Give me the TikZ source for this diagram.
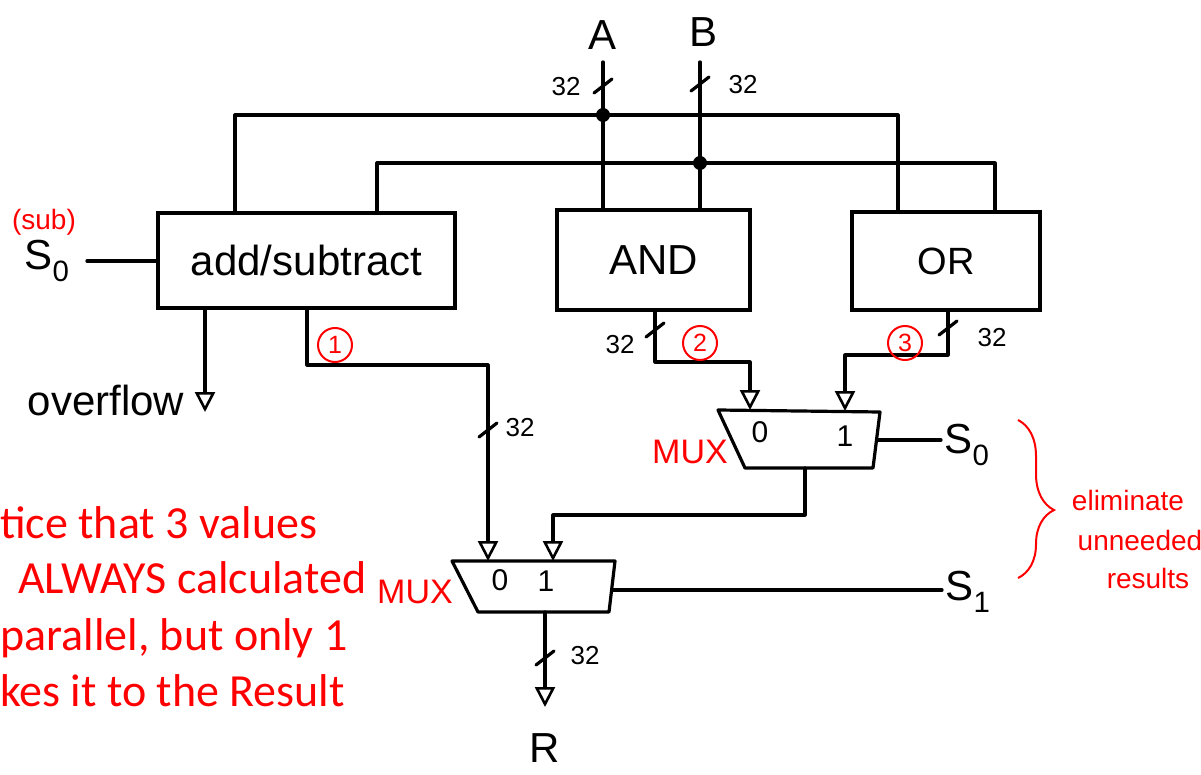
\documentclass[tikz,border=0pt]{standalone}
\usepackage{fontspec}
\setmainfont{Liberation Sans}
\newfontfamily\notefont{Carlito}
\usetikzlibrary{arrows.meta, calc, decorations.pathreplacing, positioning}
\newcommand{\BusTick}[1]{\draw[wire] ($(#1)+(-9,7)$) -- ($(#1)+(9,-7)$);}
\newcommand{\fsz}[1]{\fontsize{#1}{#1}\selectfont}

\begin{document}
\begin{tikzpicture}[x=1pt, y=-1pt,
    wire/.style={line width=3.2pt, line join=round, line cap=round},
    arr/.style={wire, -{Triangle[open, length=20pt, width=20pt, line width=2.6pt]}},
    blk/.style={draw, line width=3.2pt, inner sep=0pt, font=\fsz{42}},
    lbl/.style={font=\fsz{42}},
    buslbl/.style={font=\fsz{26}},
    muxnum/.style={font=\fsz{30}},
    redlbl/.style={text=red, font=\fsz{28}},
    muxlbl/.style={text=red, font=\fsz{34}},
    circnum/.style={circle, draw=red, text=red, line width=2pt, inner sep=0pt, minimum size=34pt, font=\fsz{25}},
    notetext/.style={text=red, anchor=base west, inner sep=0pt, font=\notefont\fsz{46}},
]
    \useasboundingbox (0,0) rectangle (1201,775);
    \clip (0,0) rectangle (1201,775);

    % Explicit Coordinates from the sketch
    \coordinate (topA) at (603,62);
    \coordinate (topB) at (700,62);
    \coordinate (w1L)  at (235,115);
    \coordinate (w1R)  at (898,115);
    \coordinate (w2L)  at (377,163);
    \coordinate (w2R)  at (995,163);
    \coordinate (jA)   at (603,115);
    \coordinate (jB)   at (700,163);

    % functional units
    \node[blk, minimum width=297, minimum height=95] (addblk) at (306.5,260.5) {add/subtract};
    \node[blk, minimum width=193, minimum height=100] (andblk) at (653.5,260) {AND};
    \node[blk, minimum width=188, minimum height=98, font=\fsz{38}] (orblk) at (946,261) {OR};

    % inputs
    \node[lbl] (lblA) at (602,35) {A};
    \node[lbl] (lblB) at (703,32) {B};
    \draw[wire] (topA) -- (topA |- andblk.north);
    \draw[wire] (topB) -- (topB |- andblk.north);
    \draw[wire] (addblk.north -| w1L) -- (w1L) -- (w1R) -- (orblk.north -| w1R);
    \draw[wire] (addblk.north -| w2L) -- (w2L) -- (w2R) -- (orblk.north -| w2R);
    \fill (jA) circle (7);
    \fill (jB) circle (7);
    \coordinate (tickA) at (603,86);
    \coordinate (tickB) at (700,84);
    \BusTick{tickA}
    \BusTick{tickB}
    \node[buslbl] (busA) at (566,87) {32};
    \node[buslbl] (busB) at (743,85) {32};

    \node[lbl] (s0left) at (47,261) {S\textsubscript{0}};
    \node[redlbl] (sublbl) at (44,222) {(sub)};
    \draw[wire] ([xshift=14pt]s0left.east) -- (addblk.west |- s0left);

    % overflow
    \coordinate (ovEnd) at (205,412);
    \draw[arr] (ovEnd |- addblk.south) -- (ovEnd);
    \node[lbl] (ovlbl) at (106,400) {overflow};

    % result paths
    \coordinate (o1a) at (307,365);
    \coordinate (o1b) at (488,365);
    \coordinate (o2a) at (655,362);
    \coordinate (o2b) at (750,362);
    \coordinate (o3a) at (948,355);
    \coordinate (o3b) at (845,355);

    % first mux
    \coordinate (M1tl) at (718,410);
    \coordinate (M1tr) at (880,412);
    \coordinate (M1br) at (873,468);
    \coordinate (M1bl) at (745,468);
    \coordinate (M1in0) at (750,410);
    \coordinate (M1in1) at (845,411);
    \coordinate (M1sel) at (877,440);
    \coordinate (M1out) at (805,468);
    \draw[wire] (M1tl) -- (M1tr) -- (M1br) -- (M1bl) -- cycle;
    \node[muxnum] (m1zero) at (760,432) {0};
    \node[muxnum] (m1one) at (845,436) {1};
    \node[muxlbl] (mux1lbl) at (690,452) {MUX};

    % second mux
    \coordinate (M2tl) at (452,561);
    \coordinate (M2tr) at (615,561);
    \coordinate (M2br) at (609,612);
    \coordinate (M2bl) at (478,612);
    \coordinate (M2in0) at (488,561);
    \coordinate (M2in1) at (553,561);
    \coordinate (M2sel) at (612,590);
    \coordinate (M2out) at (545,612);
    \draw[wire] (M2tl) -- (M2tr) -- (M2br) -- (M2bl) -- cycle;
    \node[muxnum] (m2zero) at (500,580) {0};
    \node[muxnum] (m2one) at (546,581) {1};
    \node[muxlbl] (mux2lbl) at (415,592) {MUX};

    \draw[arr] (o1a |- addblk.south) -- (o1a) -- (o1b) -- (M2in0);
    \draw[arr] (o2a |- andblk.south) -- (o2a) -- (o2b) -- (M1in0);
    \draw[arr] (o3a |- orblk.south) -- (o3a) -- (o3b) -- (M1in1);
    \coordinate (m1turn) at (805,515);
    \draw[arr] (M1out) -- (m1turn) -- (m1turn -| M2in1) -- (M2in1);

    \coordinate (tick1) at (488,430);
    \coordinate (tick2) at (655,330);
    \coordinate (tick3) at (948,328);
    \BusTick{tick1}
    \BusTick{tick2}
    \BusTick{tick3}
    \node[buslbl] (bus1) at (520,428) {32};
    \node[buslbl] (bus2) at (620,345) {32};
    \node[buslbl] (bus3) at (992,338) {32};
    \node[circnum] (c1) at (335,345) {1};
    \node[circnum] (c2) at (700,343) {2};
    \node[circnum] (c3) at (905,343) {3};

    % selects
    \node[lbl] (s0right) at (967,445) {S\textsubscript{0}};
    \node[lbl] (s1right) at (968,592) {S\textsubscript{1}};
    \draw[wire] (M1sel) -- (M1sel -| s0right.west);
    \draw[wire] (M2sel) -- (M2sel -| s1right.west);

    % output
    \coordinate (outEnd) at (545,707);
    \draw[arr] (M2out) -- (outEnd);
    \coordinate (tickR) at (545,658);
    \BusTick{tickR}
    \node[buslbl] (busR) at (585,656) {32};
    \node[lbl] (lblR) at (545,748) {R};

    % annotations
    \draw[red, line width=2pt, decorate, decoration={brace, amplitude=36pt, aspect=0.57}] (1018,420) -- (1018,578);
    \node[redlbl] (elim1) at (1128,500) {eliminate};
    \node[redlbl] (elim2) at (1140,540) {unneeded};
    \node[redlbl] (elim3) at (1148,578) {results};

    \node[notetext] (note1) at (0,538) {tice that 3 values};
    \node[notetext] (note2) at (18,593) {ALWAYS calculated};
    \node[notetext] (note3) at (0,650) {parallel, but only 1};
    \node[notetext] (note4) at (0,706) {kes it to the Result};
\end{tikzpicture}
\end{document}
